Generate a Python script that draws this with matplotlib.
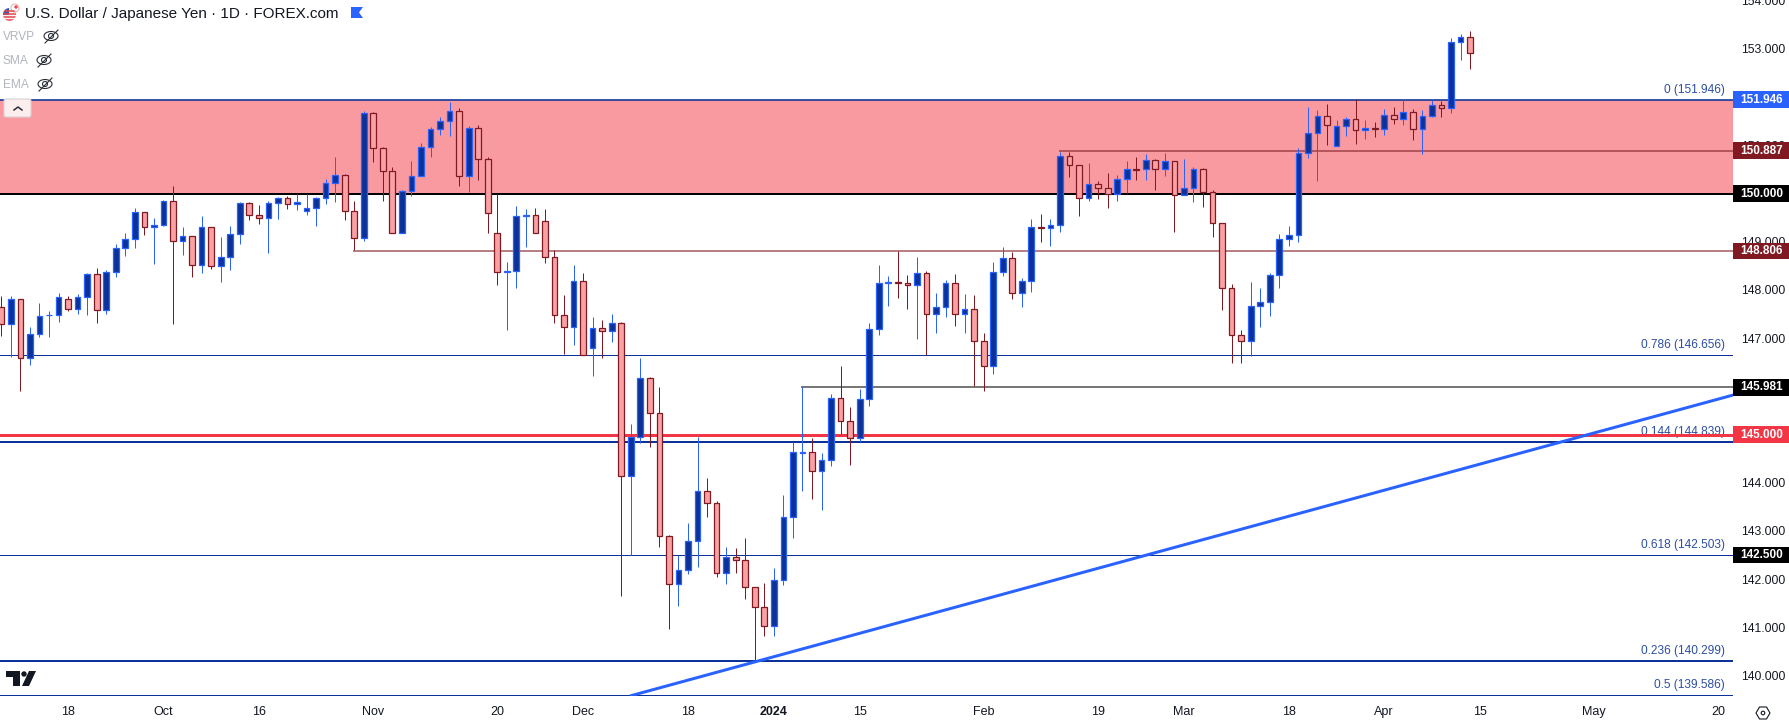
import matplotlib
matplotlib.use("Agg")
import matplotlib.pyplot as plt
from matplotlib.patches import Rectangle, Polygon, Ellipse, Circle, FancyBboxPatch

# daily USD/JPY candles
opens = [147.64,147.29,147.81,146.58,147.08,147.47,147.48,147.82,147.60,147.85,148.33,147.58,148.37,148.87,149.05,149.61,149.30,149.34,149.84,149.01,
         149.11,148.51,149.30,148.49,148.69,149.16,149.80,149.55,149.49,149.80,149.90,149.78,149.63,149.70,149.90,150.21,150.38,149.63,149.07,151.67,
         150.94,150.46,149.18,150.05,150.36,150.96,151.33,151.50,151.71,150.36,151.36,150.71,149.18,148.38,148.39,149.54,149.55,149.43,148.68,147.48,
         147.23,148.18,146.79,147.21,147.14,147.31,144.14,144.94,146.17,145.44,142.89,141.89,142.18,142.79,143.82,143.58,142.12,142.45,142.39,141.83,
         141.42,141.02,141.98,143.28,144.62,144.63,144.24,144.47,145.75,145.28,144.92,145.73,147.19,148.15,148.16,148.14,148.10,148.35,147.50,147.64,
         148.14,147.50,147.60,146.94,146.42,148.37,148.66,147.93,148.18,149.30,149.28,149.34,150.77,150.59,149.90,150.19,150.11,149.99,150.30,150.50,
         150.50,150.69,150.50,150.67,149.97,150.11,150.50,150.03,149.38,148.04,147.06,146.94,147.66,147.75,148.31,149.05,149.14,150.84,151.25,151.60,
         150.98,151.40,151.54,151.31,151.36,151.33,151.63,151.54,151.69,151.33,151.60,151.83,151.77,153.14,153.24]
closes = [147.29,147.81,146.58,147.08,147.45,147.48,147.85,147.60,147.85,148.33,147.58,148.37,148.87,149.05,149.61,149.30,149.34,149.84,149.01,149.11,
          148.51,149.30,148.49,148.69,149.16,149.80,149.55,149.49,149.80,149.90,149.78,149.82,149.70,149.90,150.21,150.38,149.63,149.07,151.67,150.94,
          150.46,149.18,150.05,150.36,150.96,151.33,151.50,151.71,150.36,151.36,150.71,149.59,148.37,148.39,149.53,149.55,149.18,148.68,147.48,147.23,
          148.18,146.65,147.21,147.14,147.31,144.14,144.94,146.17,145.44,142.89,141.89,142.18,142.79,143.82,143.58,142.12,142.45,142.39,141.83,141.42,
          141.02,141.98,143.28,144.63,144.63,144.24,144.47,145.75,145.28,144.92,145.73,147.19,148.14,148.16,148.15,148.10,148.35,147.50,147.64,148.14,
          147.50,147.60,146.94,146.42,148.37,148.66,147.93,148.18,149.30,149.28,149.34,150.77,150.59,149.90,150.19,150.11,149.99,150.30,150.50,150.49,
          150.69,150.50,150.67,149.97,150.11,150.50,150.03,149.38,148.04,147.06,146.94,147.66,147.75,148.31,149.05,149.14,150.84,151.25,151.60,151.42,
          151.40,151.54,151.31,151.36,151.33,151.63,151.54,151.69,151.33,151.60,151.83,151.77,153.14,153.24,152.91]
highs = [147.88,147.88,147.82,147.23,147.72,147.57,147.93,147.88,147.91,148.35,148.45,148.41,148.96,149.18,149.70,149.62,149.49,149.86,150.15,149.30,
         149.12,149.53,149.31,149.09,149.32,149.83,149.82,149.76,149.84,149.92,149.94,149.99,149.99,149.92,150.30,150.75,150.40,149.84,151.71,151.69,
         150.96,150.55,150.07,150.67,151.04,151.38,151.58,151.90,151.77,151.40,151.42,150.75,149.99,148.58,149.74,149.68,149.70,149.68,148.82,147.89,
         148.51,148.35,147.43,147.37,147.50,147.33,145.22,146.59,146.19,145.98,142.91,142.49,143.16,144.94,144.09,143.62,142.66,142.64,142.85,141.84,
         141.92,142.23,143.74,144.84,145.98,144.92,144.61,145.84,146.42,145.57,145.94,147.31,148.51,148.28,148.80,148.31,148.68,148.39,147.93,148.20,
         148.33,147.91,147.89,147.10,148.58,148.89,148.78,148.24,149.47,149.57,149.47,150.87,150.87,150.59,150.63,150.26,150.42,150.38,150.67,150.75,
         150.82,150.71,150.84,150.67,150.71,150.55,150.53,150.07,149.38,148.12,147.16,148.16,148.04,148.35,149.16,149.32,150.94,151.79,151.73,151.85,
         151.52,151.58,151.96,151.52,151.48,151.75,151.79,151.96,151.75,151.73,151.94,151.92,153.22,153.31,153.37]
lows = [147.05,146.60,145.91,146.45,147.03,147.03,147.34,147.57,147.51,147.47,147.32,147.51,148.26,148.71,148.86,149.14,148.53,149.33,147.30,148.73,
        148.26,148.36,148.44,148.17,148.42,148.96,149.46,149.36,148.76,149.48,149.67,149.65,149.56,149.32,149.79,149.83,149.46,148.82,149.02,150.66,
        149.85,149.18,149.18,149.94,150.36,150.76,151.22,151.20,150.16,150.04,150.29,149.19,148.11,147.16,148.03,148.90,149.18,148.55,147.32,146.68,
        146.85,146.65,146.22,146.58,146.91,141.64,142.50,144.83,144.75,142.66,140.97,141.45,142.10,142.26,143.28,142.05,141.89,142.12,141.58,140.29,
        140.81,140.83,141.87,142.86,143.82,143.67,143.44,144.34,145.01,144.36,144.85,145.60,147.07,147.66,147.84,147.61,146.99,146.65,147.10,147.43,
        147.26,147.10,146.01,145.91,146.25,148.28,147.82,147.64,147.95,149.00,148.92,149.21,150.35,149.54,149.84,149.88,149.69,149.85,150.01,150.28,
        150.29,150.08,150.37,149.21,149.97,149.83,149.71,149.09,147.59,146.49,146.49,146.62,147.24,147.45,148.03,148.92,149.00,150.73,150.27,151.00,
        150.98,151.20,151.02,151.14,151.18,151.22,151.45,151.43,151.12,150.81,151.58,151.58,151.68,152.76,152.59]

# time axis, position counted in bars
tick_pos = [7, 17, 27, 39, 52, 61, 72, 81, 90, 103, 115, 124, 135, 145, 155, 167, 180]
tick_labels = ["18", "Oct", "16", "Nov", "20", "Dec", "18", "2024", "15", "Feb", "19", "Mar", "18", "Apr", "15", "May", "20"]
price_ticks = list(range(140, 155))

# horizontal levels
zone_low = 150.0
zone_high = 151.946
fib_levels = [151.946, 146.656, 144.839, 142.503, 140.299, 139.586]
fib_names = ["0", "0.786", "0.144", "0.618", "0.236", "0.5"]
fib_widths = [1.6, 1, 2, 1, 2, 1]
line_levels = [150.887, 148.806, 145.981]
line_starts = [110.9, 36.9, 83.85]
line_colors = ["#b5565c", "#b88083", "#787878"]
tag_levels = [151.946, 150.887, 150.0, 148.806, 145.981, 145.0, 142.5]
tag_colors = ["#2962ff", "#801922", "#000000", "#801922", "#000000", "#f23645", "#000000"]
trend_x = [65.9, 181.6]
trend_y = [139.575, 145.82]

UP_EDGE = "#2962ff"
UP_FILL = "#0c3299"
DOWN_EDGE = "#801922"
DOWN_FILL = "#faa1a4"
NAVY = "#0c3299"
FIB_TEXT = "#2c4ea3"
TEXT = "#131722"
FONT = "Liberation Sans"

W, H = 1790, 724
PX = 0.72  # one pixel in points at dpi 100
XLIM = (-0.139, 181.57)
YLIM = (139.575, 154.015)

plt.rcParams["font.family"] = FONT
fig = plt.figure(figsize=(W / 100, H / 100), dpi=100, facecolor="white")

ax = fig.add_axes([0, 28 / H, 1733 / W, 696 / H])
ax.set_xlim(*XLIM)
ax.set_ylim(*YLIM)
for s in ax.spines.values():
    s.set_visible(False)

# red zone and levels
ax.axhspan(zone_low, zone_high, color="#f99aa1", lw=0, zorder=1)
ax.axhline(zone_low, color="black", lw=2 * PX, zorder=3)
ax.axhline(145.0, color="#f23645", lw=3 * PX, zorder=4)
for lev, w in zip(fib_levels, fib_widths):
    ax.axhline(lev, color=NAVY, lw=w * PX, zorder=2)
for lev, st, c in zip(line_levels, line_starts, line_colors):
    ax.hlines(lev, st, XLIM[1], color=c, lw=2 * PX, zorder=2)

# fib labels
for lev, name in zip(fib_levels, fib_names):
    ax.annotate(f"{name} ({lev:.3f})", (180.7, lev), xytext=(0, 7.2), textcoords="offset points",
                ha="right", va="center", color=FIB_TEXT, fontsize=8.6, zorder=3)

# candles
xs = list(range(len(opens)))
wick_colors = [UP_EDGE if c >= o else DOWN_EDGE for o, c in zip(opens, closes)]
fill_colors = [UP_FILL if c >= o else DOWN_FILL for o, c in zip(opens, closes)]
ax.vlines(xs, lows, highs, colors=wick_colors, lw=PX, zorder=5)
bottoms = [min(o, c) for o, c in zip(opens, closes)]
heights = [abs(c - o) for o, c in zip(opens, closes)]
ax.bar(xs, heights, bottom=bottoms, width=0.6, color=fill_colors, edgecolor=wick_colors, linewidth=0.9, zorder=6)

ax.plot(trend_x, trend_y, color="#2962ff", lw=3 * PX, zorder=7, solid_capstyle="butt")

# axis labels
ax.set_xticks(tick_pos)
ax.set_xticklabels(tick_labels, fontsize=9, color=TEXT)
ax.get_xticklabels()[7].set_fontweight("bold")
ax.yaxis.tick_right()
ax.set_yticks(price_ticks)
ax.set_yticklabels([f"{p:.3f}" for p in price_ticks], fontsize=8.7, color=TEXT)
ax.tick_params(axis="x", length=0, pad=7)
ax.tick_params(axis="y", length=0, pad=5.8)

# price tags on the right
tag_ax = fig.add_axes([1733 / W, 28 / H, 56 / W, 696 / H], facecolor="none")
tag_ax.set_xlim(0, 1)
tag_ax.set_ylim(*YLIM)
tag_ax.axis("off")
for lev, c in zip(tag_levels, tag_colors):
    tag_ax.add_patch(Rectangle((0, lev - 0.173), 1, 0.346, facecolor=c, edgecolor="none"))
    tag_ax.text(0.89, lev, f"{lev:.3f}", color="white", fontsize=8.5, ha="right", va="center", fontweight="bold")

# header, icons and logo in pixel coordinates
top = fig.add_axes([0, 0, 1, 1], facecolor="none")
top.set_xlim(0, W)
top.set_ylim(H, 0)
top.axis("off")
top.text(25, 14, "U.S. Dollar / Japanese Yen · 1D · FOREX.com", fontsize=11, color=TEXT, va="center")

# flag icon next to the title
badge = Circle((9.5, 14.5), 6.5, facecolor="#f4f4f4", edgecolor="none")
top.add_patch(badge)
for yy in [10.5, 13.5, 16.5, 19.5]:
    stripe = top.plot([3, 16], [yy, yy], color="#e5484d", lw=1.1, solid_capstyle="butt")[0]
    stripe.set_clip_path(badge)
canton = Rectangle((3, 8), 6.5, 6.5, facecolor="#3457b0", edgecolor="none")
top.add_patch(canton)
canton.set_clip_path(badge)
top.add_patch(Circle((15, 8), 4, facecolor="white", edgecolor="#e0b0b0", lw=0.7))
top.add_patch(Circle((16, 7), 1.7, facecolor="#e5484d", edgecolor="none"))
top.add_patch(Polygon([(351, 7), (363, 7), (359, 12.5), (363, 18), (351, 18)], closed=True, facecolor="#2962ff", edgecolor="none"))

for name, ty, ex in zip(["VRVP", "SMA", "EMA"], [37, 61, 85], [51, 44, 45]):
    top.text(3, ty, name, fontsize=8.6, color="#b2b5be", va="center")
    top.add_patch(Ellipse((ex, ty - 1), 14, 9, facecolor="none", edgecolor="#2a2e39", lw=0.8))
    top.add_patch(Circle((ex, ty - 1), 2.5, facecolor="none", edgecolor="#2a2e39", lw=0.8))
    top.plot([ex - 6, ex + 7], [ty + 6, ty - 7], color="#2a2e39", lw=0.8)

# collapse button
top.add_patch(FancyBboxPatch((4, 99), 27, 18, boxstyle="round,pad=0,rounding_size=2", facecolor="#fdeeee", edgecolor="#d9d3d6", lw=0.8))
top.plot([14, 18, 22], [110, 107, 110], color="#2a2e39", lw=1.1)

# TradingView logo
top.add_patch(Polygon([(6, 671), (20, 671), (20, 686), (13, 686), (13, 677), (6, 677)], closed=True, facecolor=TEXT, edgecolor="none"))
top.add_patch(Circle((24, 674), 2.7, facecolor=TEXT, edgecolor="none"))
top.add_patch(Polygon([(29, 671), (36, 671), (29, 686), (22, 686)], closed=True, facecolor=TEXT, edgecolor="none"))

# settings hexagon
top.add_patch(Polygon([(1756, 713), (1759.5, 707), (1766.5, 707), (1770, 713), (1766.5, 719), (1759.5, 719)], closed=True,
                      facecolor="none", edgecolor=TEXT, lw=0.8))
top.add_patch(Circle((1763, 713), 1.8, facecolor="none", edgecolor=TEXT, lw=0.8))

fig.savefig("out.png", dpi=100)
